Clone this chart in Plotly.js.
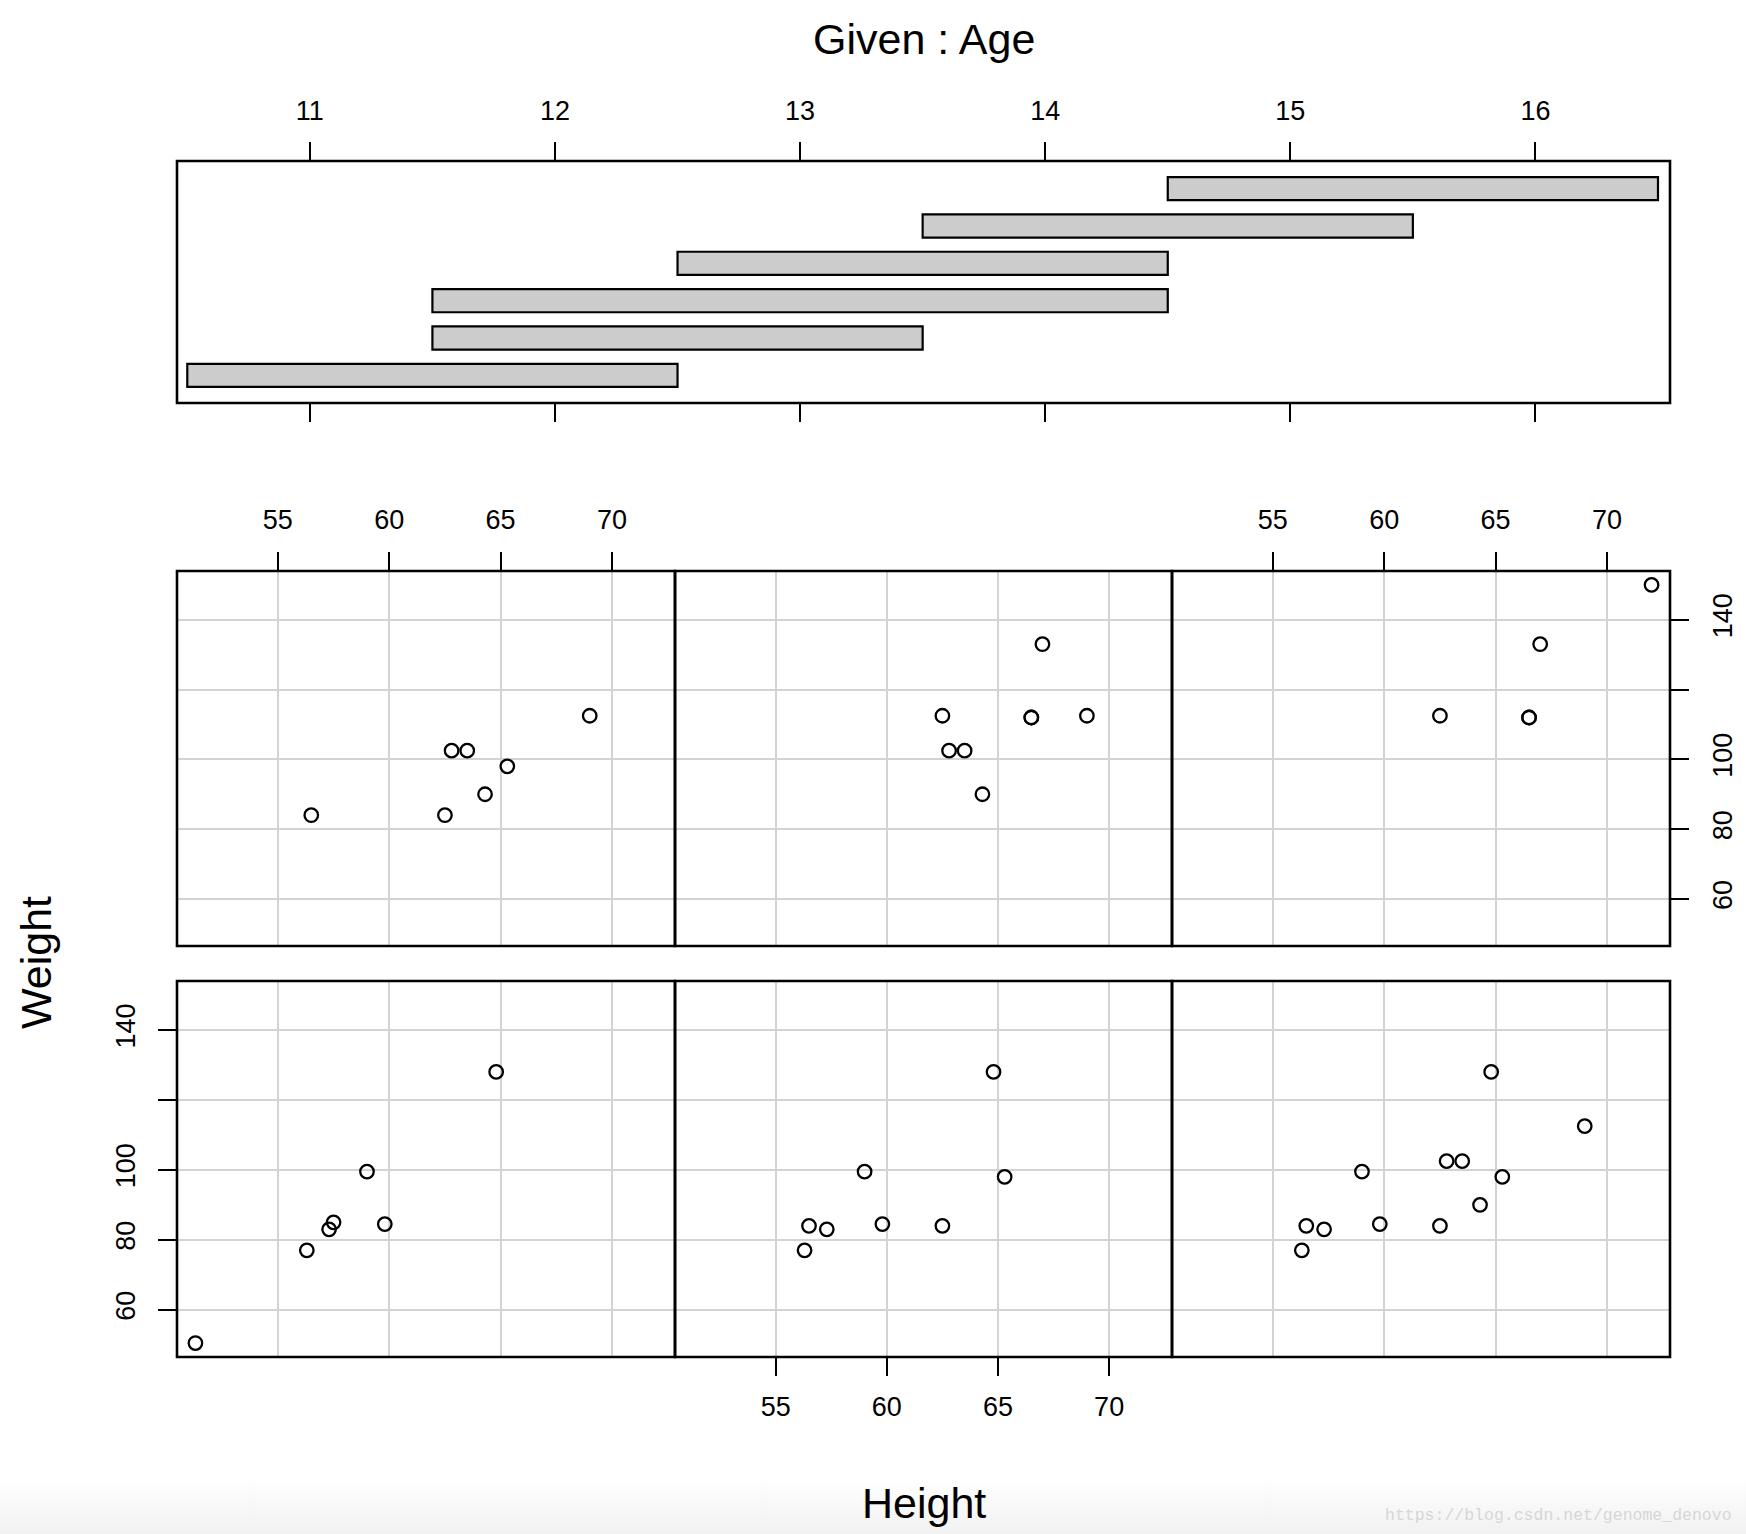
<!DOCTYPE html>
<html>
<head>
<meta charset="utf-8">
<script src="https://cdn.plot.ly/plotly-3.0.1.min.js"></script>
<style>
  html, body { margin: 0; padding: 0; }
  body { width: 1746px; height: 1534px; background: linear-gradient(to bottom, #ffffff 0px, #ffffff 1478px, #f1f1f1 1534px); }
  #chart { width: 1746px; height: 1534px; }
</style>
</head>
<body>
<div id="chart"></div>
<script>
// SAS "class" data: Height, Weight, Age of 19 students
const height = [69.0, 56.5, 65.3, 62.8, 63.5, 57.3, 59.8, 62.5, 62.5, 59.0, 51.3, 64.3, 56.3, 66.5, 72.0, 64.8, 67.0, 57.5, 66.5];
const weight = [112.5, 84.0, 98.0, 102.5, 102.5, 83.0, 84.5, 112.5, 84.0, 99.5, 50.5, 90.0, 77.0, 112.0, 150.0, 128.0, 133.0, 85.0, 112.0];
const age = [14, 13, 13, 14, 14, 12, 12, 15, 13, 12, 11, 14, 12, 15, 16, 12, 15, 11, 15];

// Given intervals for Age (co.intervals)
const intervalLower = [10.5, 11.5, 11.5, 12.5, 13.5, 14.5];
const intervalUpper = [12.5, 13.5, 14.5, 14.5, 15.5, 16.5];
const intervalIndex = [1, 2, 3, 4, 5, 6];

const ageTicks = [11, 12, 13, 14, 15, 16];
const heightTicks = [55, 60, 65, 70];
const weightTicks = [60, 80, 100, 120, 140];
const weightTickText = ['60', '80', '100', '', '140'];

const W = 1746, H = 1534;
const fx = p => p / W;
const fy = p => 1 - p / H;
const FONT = 'Liberation Sans, Arial, Helvetica, sans-serif';
const tickFont = { family: FONT, size: 27, color: '#000' };

const colPx = [[177, 675], [675, 1172], [1172, 1670]];
const rowPx = { top: [571, 946], bottom: [981, 1357] };

const traces = [];
const shapes = [];
const layout = {
  width: W, height: H,
  margin: { l: 0, r: 0, t: 0, b: 0 },
  paper_bgcolor: 'rgba(0,0,0,0)',
  plot_bgcolor: '#ffffff',
  showlegend: false,
  font: { family: FONT, color: '#000' },
  annotations: [],
  shapes: shapes
};

function frame(n) {
  const xs = n === 1 ? 'x' : 'x' + n;
  const ys = n === 1 ? 'y' : 'y' + n;
  shapes.push({
    type: 'rect', xref: xs + ' domain', yref: ys + ' domain',
    x0: 0, x1: 1, y0: 0, y1: 1,
    line: { color: '#000', width: 2.6 }, fillcolor: 'rgba(0,0,0,0)', layer: 'above'
  });
}

// Given panel
traces.push({
  type: 'bar', orientation: 'h',
  y: intervalIndex,
  x: intervalUpper.map((u, i) => u - intervalLower[i]),
  base: intervalLower,
  width: 0.62,
  marker: { color: '#cccccc', line: { color: '#000', width: 2.2 } },
  xaxis: 'x', yaxis: 'y', hoverinfo: 'skip'
});
layout.xaxis = {
  domain: [fx(177), fx(1670)], anchor: 'y',
  range: [10.458, 16.549], side: 'top',
  tickvals: ageTicks, ticks: 'outside', ticklen: 18, tickwidth: 2, tickcolor: '#000',
  tickfont: tickFont, ticklabelstandoff: 11,
  showline: false, mirror: 'ticks',
  showgrid: false, zeroline: false, fixedrange: true
};
layout.yaxis = {
  domain: [fy(403), fy(161)], anchor: 'x',
  range: [0.26, 6.74],
  showticklabels: false, ticks: '',
  showline: false,
  showgrid: false, zeroline: false, fixedrange: true
};
frame(1);

// Scatter panels: 0-2 bottom row, 3-5 top row
for (let i = 0; i < 6; i++) {
  const lo = intervalLower[i], hi = intervalUpper[i];
  const xs = [], ys = [];
  for (let k = 0; k < age.length; k++) {
    if (age[k] >= lo && age[k] <= hi) { xs.push(height[k]); ys.push(weight[k]); }
  }
  const n = i + 2;
  const col = i % 3;
  const top = i >= 3;
  traces.push({
    type: 'scatter', mode: 'markers', x: xs, y: ys,
    xaxis: 'x' + n, yaxis: 'y' + n,
    marker: { symbol: 'circle-open', size: 13.5, color: '#000', line: { color: '#000', width: 2.3 } },
    hoverinfo: 'skip'
  });
  const yr = top ? rowPx.top : rowPx.bottom;
  const xTicksOn = (top && (col === 0 || col === 2)) || (!top && col === 1);
  const yTicksOn = (!top && col === 0) || (top && col === 2);
  layout['xaxis' + n] = {
    domain: [fx(colPx[col][0]), fx(colPx[col][1])], anchor: 'y' + n,
    range: [50.472, 72.828], side: top ? 'top' : 'bottom',
    tickvals: heightTicks,
    ticks: xTicksOn ? 'outside' : '', ticklen: 18, tickwidth: 2, tickcolor: '#000',
    showticklabels: xTicksOn, tickfont: tickFont, ticklabelstandoff: top ? 12 : 8,
    showgrid: true, gridcolor: '#d3d3d3', gridwidth: 2,
    showline: false,
    zeroline: false, fixedrange: true
  };
  layout['yaxis' + n] = {
    domain: [fy(yr[1]), fy(yr[0])], anchor: 'x' + n,
    range: [46.52, 153.98], side: (top && col === 2) ? 'right' : 'left',
    tickvals: weightTicks, ticktext: weightTickText,
    ticks: yTicksOn ? 'outside' : '', ticklen: 18, tickwidth: 2, tickcolor: '#000',
    showticklabels: yTicksOn, tickfont: tickFont, tickangle: -90,
    ticklabelstandoff: (top && col === 2) ? 11 : 12,
    showgrid: true, gridcolor: '#d3d3d3', gridwidth: 2,
    showline: false,
    zeroline: false, fixedrange: true
  };
  frame(n);
}

// Titles
const titleFont = { family: FONT, size: 43, color: '#000' };
layout.annotations.push({
  text: 'Given : Age', xref: 'paper', yref: 'paper',
  x: fx(923.5), y: fy(39), xanchor: 'center', yanchor: 'middle',
  showarrow: false, font: titleFont
});
layout.annotations.push({
  text: 'Height', xref: 'paper', yref: 'paper',
  x: fx(923.5), y: fy(1503), xanchor: 'center', yanchor: 'middle',
  showarrow: false, font: titleFont
});
layout.annotations.push({
  text: 'Weight', xref: 'paper', yref: 'paper',
  x: fx(36), y: fy(963), xanchor: 'center', yanchor: 'middle',
  textangle: -90, showarrow: false, font: titleFont
});
layout.annotations.push({
  text: 'https://blog.csdn.net/genome_denovo', xref: 'paper', yref: 'paper',
  x: fx(1734), y: fy(1515), xanchor: 'right', yanchor: 'middle',
  showarrow: false, font: { family: 'Liberation Mono, DejaVu Sans Mono, monospace', size: 16.5, color: '#d6d6d6' }
});

Plotly.newPlot('chart', traces, layout, { staticPlot: true, displayModeBar: false });
</script>
</body>
</html>
